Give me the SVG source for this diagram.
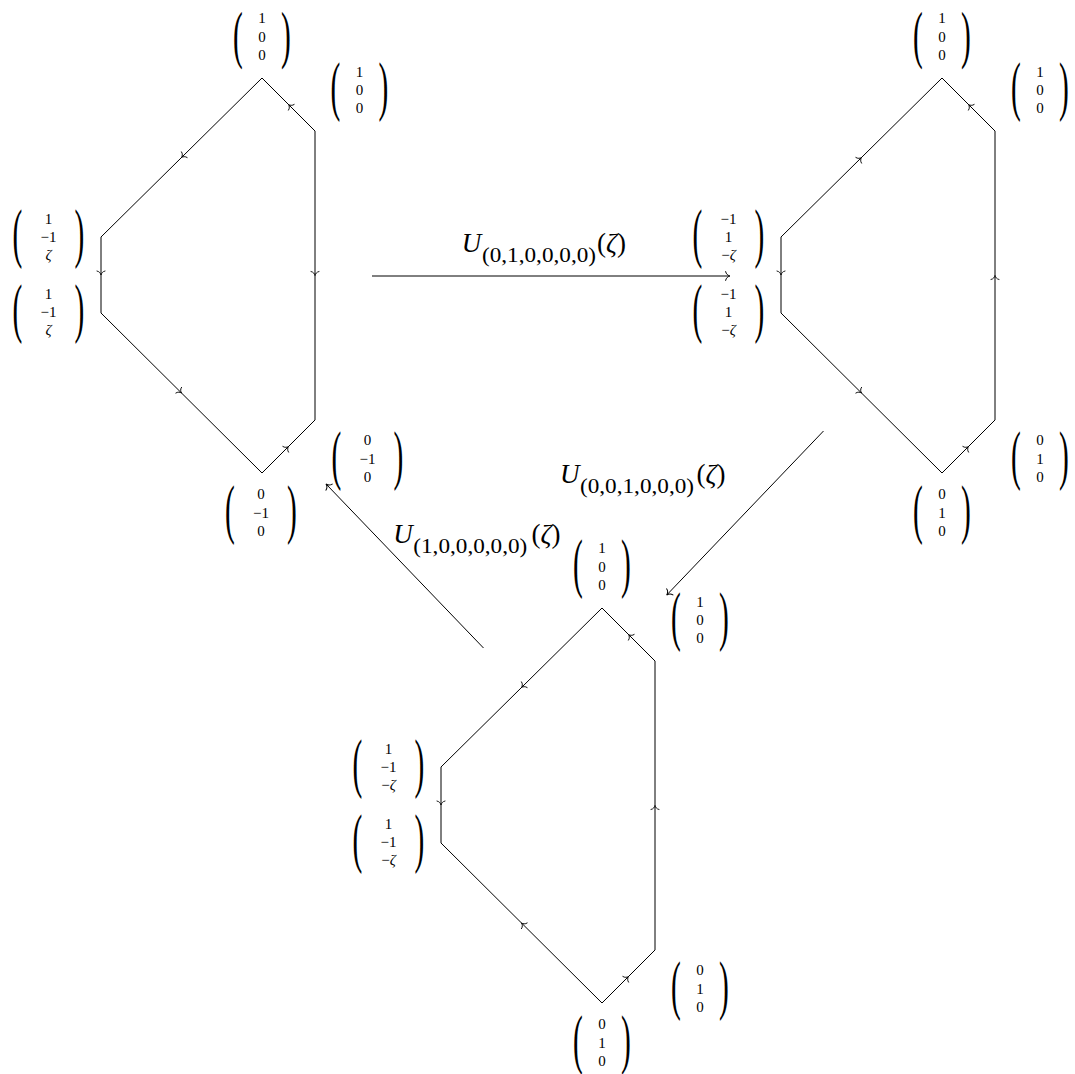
<svg xmlns="http://www.w3.org/2000/svg" width="1075" height="1074" viewBox="0 0 1075 1074">
<style>
.edge{fill:none;stroke:#000;stroke-width:1;stroke-linejoin:miter}
.tip{fill:none;stroke:#000;stroke-width:0.9;stroke-linecap:round}
.conn{fill:none;stroke:#000;stroke-width:1}
.v{font-family:"Liberation Serif","Times New Roman",serif;font-size:15px;text-anchor:middle;fill:#000}
.p{font-family:"Liberation Serif","Times New Roman",serif;font-size:28px;text-anchor:middle;fill:#000}
.i{font-style:italic}
.U{font-family:"Liberation Serif","Times New Roman",serif;font-size:27px;font-style:italic;fill:#000}
.sub{font-family:"Liberation Serif","Times New Roman",serif;font-size:20px;fill:#000}
.arg{font-family:"Liberation Serif","Times New Roman",serif;font-size:27px;fill:#000}
</style>
<defs>
<path id="tip" class="tip" d="M -4,-4 C -3.6,-1.6 -1.6,-0.4 0,0 C -1.6,0.4 -3.6,1.6 -4,4"/>
</defs>

<!-- Hexagon 1 (top-left) -->
<g id="hex1">
<path class="edge" d="M262,78 L315,131 L315,420 L262,473 L101,313 L101,237 Z"/>
<use href="#tip" transform="translate(181.5,157.5) rotate(135)"/>
<use href="#tip" transform="translate(101,275) rotate(90)"/>
<use href="#tip" transform="translate(181.5,393) rotate(45)"/>
<use href="#tip" transform="translate(288.5,446.5) rotate(-45)"/>
<use href="#tip" transform="translate(315,275.5) rotate(90)"/>
<use href="#tip" transform="translate(288.5,104.5) rotate(-135)"/>
<g id="h1-t" transform="translate(262,37.5)">
<text class="p" transform="translate(-24,18.8) scale(1.05,2.25)">(</text><text class="p" transform="translate(24,18.8) scale(1.05,2.25)">)</text>
<text class="v" y="-14.3">1</text><text class="v" y="4">0</text><text class="v" y="22.3">0</text>
</g>
<g id="h1-ur" transform="translate(359.5,91)">
<text class="p" transform="translate(-24,17) scale(1.05,2.35)">(</text><text class="p" transform="translate(24,17) scale(1.05,2.35)">)</text>
<text class="v" y="-14.3">1</text><text class="v" y="4">0</text><text class="v" y="22.3">0</text>
</g>
<g id="h1-ul" transform="translate(48.5,238)">
<text class="p" transform="translate(-31,17) scale(1.05,2.35)">(</text><text class="p" transform="translate(31,17) scale(1.05,2.35)">)</text>
<text class="v" y="-14.3">1</text><text class="v" y="4">−1</text><text class="v i" y="22.3">ζ</text>
</g>
<g id="h1-ll" transform="translate(48.5,313)">
<text class="p" transform="translate(-31,17) scale(1.05,2.35)">(</text><text class="p" transform="translate(31,17) scale(1.05,2.35)">)</text>
<text class="v" y="-14.3">1</text><text class="v" y="4">−1</text><text class="v i" y="22.3">ζ</text>
</g>
<g id="h1-b" transform="translate(261,513.5)">
<text class="p" transform="translate(-31,17) scale(1.05,2.35)">(</text><text class="p" transform="translate(31,17) scale(1.05,2.35)">)</text>
<text class="v" y="-14.3">0</text><text class="v" y="4">−1</text><text class="v" y="22.3">0</text>
</g>
<g id="h1-lr" transform="translate(367.5,459.5)">
<text class="p" transform="translate(-31,17) scale(1.05,2.35)">(</text><text class="p" transform="translate(31,17) scale(1.05,2.35)">)</text>
<text class="v" y="-14.3">0</text><text class="v" y="4">−1</text><text class="v" y="22.3">0</text>
</g>
</g>

<!-- Hexagon 2 (top-right) -->
<g id="hex2">
<path class="edge" d="M942,78 L995,131 L995,420 L942,473 L781,313 L781,237 Z"/>
<use href="#tip" transform="translate(861.5,157.5) rotate(-45)"/>
<use href="#tip" transform="translate(781,275) rotate(90)"/>
<use href="#tip" transform="translate(861.5,393) rotate(45)"/>
<use href="#tip" transform="translate(968.5,446.5) rotate(-45)"/>
<use href="#tip" transform="translate(995,275.5) rotate(-90)"/>
<use href="#tip" transform="translate(968.5,104.5) rotate(-135)"/>
<g id="h2-t" transform="translate(942,37.5)">
<text class="p" transform="translate(-24,18.8) scale(1.05,2.25)">(</text><text class="p" transform="translate(24,18.8) scale(1.05,2.25)">)</text>
<text class="v" y="-14.3">1</text><text class="v" y="4">0</text><text class="v" y="22.3">0</text>
</g>
<g id="h2-ur" transform="translate(1040,91)">
<text class="p" transform="translate(-24,17) scale(1.05,2.35)">(</text><text class="p" transform="translate(24,17) scale(1.05,2.35)">)</text>
<text class="v" y="-14.3">1</text><text class="v" y="4">0</text><text class="v" y="22.3">0</text>
</g>
<g id="h2-ul" transform="translate(728.5,238)">
<text class="p" transform="translate(-31,17) scale(1.05,2.35)">(</text><text class="p" transform="translate(31,17) scale(1.05,2.35)">)</text>
<text class="v" y="-14.3">−1</text><text class="v" y="4">1</text><text class="v" y="22.3">−<tspan class="i">ζ</tspan></text>
</g>
<g id="h2-ll" transform="translate(728.5,313)">
<text class="p" transform="translate(-31,17) scale(1.05,2.35)">(</text><text class="p" transform="translate(31,17) scale(1.05,2.35)">)</text>
<text class="v" y="-14.3">−1</text><text class="v" y="4">1</text><text class="v" y="22.3">−<tspan class="i">ζ</tspan></text>
</g>
<g id="h2-b" transform="translate(942,513.5)">
<text class="p" transform="translate(-24,17) scale(1.05,2.35)">(</text><text class="p" transform="translate(24,17) scale(1.05,2.35)">)</text>
<text class="v" y="-14.3">0</text><text class="v" y="4">1</text><text class="v" y="22.3">0</text>
</g>
<g id="h2-lr" transform="translate(1040,459.5)">
<text class="p" transform="translate(-24,17) scale(1.05,2.35)">(</text><text class="p" transform="translate(24,17) scale(1.05,2.35)">)</text>
<text class="v" y="-14.3">0</text><text class="v" y="4">1</text><text class="v" y="22.3">0</text>
</g>
</g>

<!-- Hexagon 3 (bottom) -->
<g id="hex3">
<path class="edge" d="M602,608 L655,661 L655,950 L602,1003 L441,843 L441,767 Z"/>
<use href="#tip" transform="translate(521.5,687.5) rotate(135)"/>
<use href="#tip" transform="translate(441,805) rotate(90)"/>
<use href="#tip" transform="translate(521.5,923) rotate(-135)"/>
<use href="#tip" transform="translate(628.5,976.5) rotate(-45)"/>
<use href="#tip" transform="translate(655,805.5) rotate(-90)"/>
<use href="#tip" transform="translate(628.5,634.5) rotate(-135)"/>
<g id="h3-t" transform="translate(602,567.5)">
<text class="p" transform="translate(-24,17) scale(1.05,2.35)">(</text><text class="p" transform="translate(24,17) scale(1.05,2.35)">)</text>
<text class="v" y="-14.3">1</text><text class="v" y="4">0</text><text class="v" y="22.3">0</text>
</g>
<g id="h3-ur" transform="translate(700,621)">
<text class="p" transform="translate(-24,17) scale(1.05,2.35)">(</text><text class="p" transform="translate(24,17) scale(1.05,2.35)">)</text>
<text class="v" y="-14.3">1</text><text class="v" y="4">0</text><text class="v" y="22.3">0</text>
</g>
<g id="h3-ul" transform="translate(388.5,768)">
<text class="p" transform="translate(-31,17) scale(1.05,2.35)">(</text><text class="p" transform="translate(31,17) scale(1.05,2.35)">)</text>
<text class="v" y="-14.3">1</text><text class="v" y="4">−1</text><text class="v" y="22.3">−<tspan class="i">ζ</tspan></text>
</g>
<g id="h3-ll" transform="translate(388.5,843)">
<text class="p" transform="translate(-31,17) scale(1.05,2.35)">(</text><text class="p" transform="translate(31,17) scale(1.05,2.35)">)</text>
<text class="v" y="-14.3">1</text><text class="v" y="4">−1</text><text class="v" y="22.3">−<tspan class="i">ζ</tspan></text>
</g>
<g id="h3-b" transform="translate(602,1043.5)">
<text class="p" transform="translate(-24,17) scale(1.05,2.35)">(</text><text class="p" transform="translate(24,17) scale(1.05,2.35)">)</text>
<text class="v" y="-14.3">0</text><text class="v" y="4">1</text><text class="v" y="22.3">0</text>
</g>
<g id="h3-lr" transform="translate(700,989.5)">
<text class="p" transform="translate(-24,17) scale(1.05,2.35)">(</text><text class="p" transform="translate(24,17) scale(1.05,2.35)">)</text>
<text class="v" y="-14.3">0</text><text class="v" y="4">1</text><text class="v" y="22.3">0</text>
</g>
</g>

<!-- Connectors -->
<g id="connectors">
<g id="c1">
<path class="conn" d="M372,276 L729,276"/>
<use href="#tip" transform="translate(730,276) rotate(0) scale(1.1)"/>
<text class="U" x="461.7" y="251.7">U</text>
<text class="sub" x="482" y="261.7" textLength="114" lengthAdjust="spacingAndGlyphs">(0,1,0,0,0,0)</text>
<text class="arg" x="597" y="251.7">(<tspan class="i">ζ</tspan>)</text>
</g>
<g id="c2">
<path class="conn" d="M823.5,431 L667.4,594.3"/>
<use href="#tip" transform="translate(666.7,595) rotate(133.9) scale(1.1)"/>
<text class="U" x="560" y="483.3">U</text>
<text class="sub" x="580" y="493.3" textLength="114" lengthAdjust="spacingAndGlyphs">(0,0,1,0,0,0)</text>
<text class="arg" x="696.5" y="483.3">(<tspan class="i">ζ</tspan>)</text>
</g>
<g id="c3">
<path class="conn" d="M483.5,648 L326.7,484.7"/>
<use href="#tip" transform="translate(326,484) rotate(-133.8) scale(1.1)"/>
<text class="U" x="393.3" y="543.3">U</text>
<text class="sub" x="413.3" y="553.3" textLength="114" lengthAdjust="spacingAndGlyphs">(1,0,0,0,0,0)</text>
<text class="arg" x="531.5" y="543.3">(<tspan class="i">ζ</tspan>)</text>
</g>
</g>
</svg>
